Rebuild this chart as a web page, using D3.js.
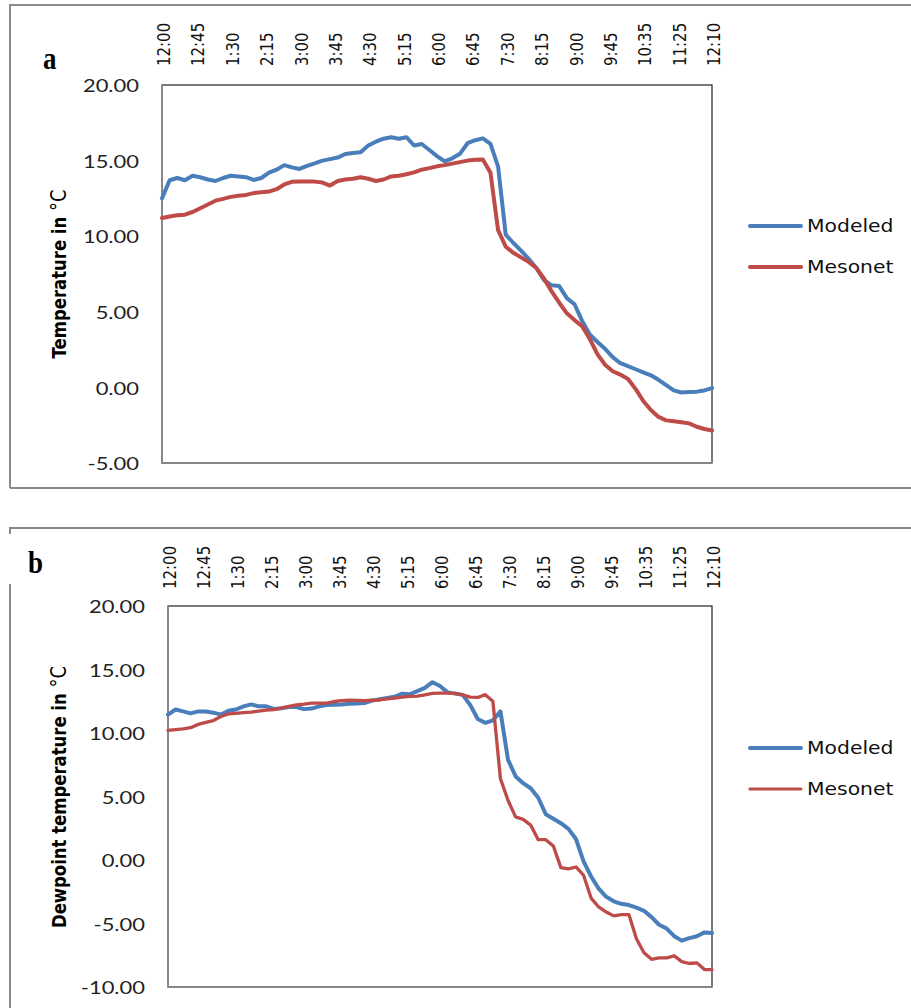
<!DOCTYPE html>
<html>
<head>
<meta charset="utf-8">
<script src="https://cdn.jsdelivr.net/npm/d3@7"></script>
<style>
  html, body { margin: 0; padding: 0; background: #fff; }
  svg { display: block; }
</style>
</head>
<body>
<svg id="chart" width="911" height="1008"></svg>
<script>
// ---------- DATA ----------
// Time-axis tick labels (every 9th category of a 145-category axis)
const tickLabels = ["12:00","12:45","1:30","2:15","3:00","3:45","4:30","5:15","6:00",
                    "6:45","7:30","8:15","9:00","9:45","10:35","11:25","12:10"];
const categoryCount = 145;   // categories on the time axis
const labelEvery = 9;        // a label every 9 categories
const sampleStep = 2;        // values below are read every 2nd category

const seriesNames = ["Modeled", "Mesonet"];

// Panel a: air temperature (°C)
const tempModeled = [
  12.5, 13.7, 13.85, 13.7, 14.0, 13.9, 13.75, 13.65, 13.85, 14.0,
  13.95, 13.9, 13.72, 13.85, 14.2, 14.4, 14.7, 14.55, 14.45, 14.65,
  14.82, 15.0, 15.1, 15.2, 15.44, 15.5, 15.55, 16.0, 16.25, 16.45,
  16.55, 16.45, 16.55, 16.0, 16.1, 15.7, 15.3, 14.95, 15.15, 15.45,
  16.15, 16.35, 16.47, 16.1, 14.6, 10.1, 9.55, 9.05, 8.5, 7.9,
  7.1, 6.75, 6.7, 5.9, 5.5, 4.4, 3.5, 3.0, 2.55, 2.0,
  1.6, 1.4, 1.2, 1.0, 0.8, 0.5, 0.15, -0.2, -0.34, -0.3,
  -0.28, -0.2, -0.05
];
const tempMesonet = [
  11.2, 11.3, 11.38, 11.42, 11.6, 11.85, 12.1, 12.35, 12.47, 12.6,
  12.68, 12.73, 12.85, 12.9, 12.95, 13.11, 13.42, 13.6, 13.61, 13.61,
  13.61, 13.55, 13.35, 13.65, 13.75, 13.8, 13.9, 13.8, 13.65, 13.75,
  13.95, 14.0, 14.1, 14.22, 14.4, 14.5, 14.62, 14.7, 14.8, 14.9,
  15.0, 15.05, 15.08, 14.2, 10.4, 9.3, 8.9, 8.6, 8.3, 7.9,
  7.2, 6.35, 5.6, 4.9, 4.45, 4.05, 3.2, 2.2, 1.5, 1.07,
  0.85, 0.55, -0.1, -0.9, -1.5, -1.95, -2.18, -2.24, -2.3, -2.38,
  -2.6, -2.75, -2.85
];

// Panel b: dewpoint temperature (°C)
const dewModeled = [
  11.45, 11.85, 11.7, 11.55, 11.7, 11.7, 11.6, 11.45, 11.75, 11.85,
  12.1, 12.25, 12.1, 12.1, 11.9, 11.95, 12.05, 12.05, 11.88, 11.92,
  12.1, 12.2, 12.22, 12.25, 12.3, 12.33, 12.36, 12.55, 12.65, 12.75,
  12.85, 13.1, 13.05, 13.3, 13.55, 14.0, 13.7, 13.2, 13.1, 13.0,
  12.2, 11.1, 10.8, 11.0, 11.7, 7.9, 6.6, 6.05, 5.65, 4.9,
  3.6, 3.25, 2.9, 2.45, 1.65, -0.1, -1.3, -2.25, -2.9, -3.25,
  -3.45, -3.55, -3.75, -4.0, -4.5, -5.1, -5.4, -6.0, -6.35, -6.15,
  -6.0, -5.7, -5.75
];
const dewMesonet = [
  10.2, 10.27, 10.32, 10.42, 10.68, 10.83, 10.98, 11.3, 11.5, 11.55,
  11.6, 11.65, 11.72, 11.8, 11.85, 11.95, 12.1, 12.22, 12.27, 12.35,
  12.35, 12.35, 12.48, 12.55, 12.58, 12.57, 12.54, 12.58, 12.6, 12.68,
  12.75, 12.83, 12.88, 12.9, 13.0, 13.12, 13.14, 13.14, 13.12, 13.0,
  12.82, 12.8, 13.02, 12.5, 6.4, 4.7, 3.4, 3.2, 2.75, 1.6,
  1.6, 1.1, -0.6, -0.7, -0.55, -1.2, -3.0, -3.7, -4.1, -4.4,
  -4.3, -4.3, -6.2, -7.3, -7.82, -7.7, -7.7, -7.55, -8.0, -8.15,
  -8.1, -8.63, -8.63
];

const yTicksA = [20, 15, 10, 5, 0, -5];
const yTicksB = [20, 15, 10, 5, 0, -5, -10];

// ---------- STYLE / LAYOUT ----------
const COLORS = ["#4A7EBB", "#BE4B48"];
const SX = 1.22; // horizontal text stretch seen in the reference

const panels = [
  {
    letter: "a", letterX: 43, letterY: 69,
    frame: {x: 10, y: 5, bottom: 488},
    plot: {left: 162, top: 85, right: 712, bottom: 463},
    yDomain: [-5, 20], yTicks: yTicksA, tickRight: 139,
    xLabelBottom: 66,
    title: "Temperature in ", titleX: 58, titleY: 274,
    series: [tempModeled, tempMesonet], widths: [4, 4],
    legendY: [226, 267], legendW: [4, 4], cover: false
  },
  {
    letter: "b", letterX: 28, letterY: 573,
    frame: {x: 10, y: 528, bottom: 1030},
    plot: {left: 168, top: 606, right: 712, bottom: 987},
    yDomain: [-10, 20], yTicks: yTicksB, tickRight: 145,
    xLabelBottom: 589,
    title: "Dewpoint temperature in ", titleX: 58, titleY: 797,
    series: [dewModeled, dewMesonet], widths: [4, 3.3],
    legendY: [748, 789], legendW: [4, 3.2], cover: true
  }
];

const svg = d3.select("#chart");
const fmt = v => d3.format(".2f")(v).replace("\u2212", "-");

panels.forEach(p => {
  const g = svg.append("g");

  // outer chart frame
  g.append("path")
    .attr("d", `M${p.frame.x},${p.frame.bottom} V${p.frame.y} H930`)
    .attr("fill", "none").attr("stroke", "#8a8a8a").attr("stroke-width", 2);
  g.append("path")
    .attr("d", `M${p.frame.x},${p.frame.bottom} H930`)
    .attr("fill", "none").attr("stroke", "#8a8a8a").attr("stroke-width", 2);

  if (p.cover) {
    g.append("rect").attr("x", 0).attr("y", 534).attr("width", 120).attr("height", 50)
      .attr("fill", "#fff");
  }

  const x = d3.scaleLinear().domain([0, categoryCount - 1]).range([p.plot.left, p.plot.right]);
  const y = d3.scaleLinear().domain(p.yDomain).range([p.plot.bottom, p.plot.top]);

  // plot area border
  g.append("rect")
    .attr("x", p.plot.left).attr("y", p.plot.top)
    .attr("width", p.plot.right - p.plot.left).attr("height", p.plot.bottom - p.plot.top)
    .attr("fill", "#fff").attr("stroke", "#222").attr("stroke-width", 1.2);
  g.append("path")
    .attr("d", `M${p.plot.left},${p.plot.top} V${p.plot.bottom} H${p.plot.right}`)
    .attr("fill", "none").attr("stroke", "#8c8c8c").attr("stroke-width", 1.6);

  // y tick labels
  g.selectAll(".ytick").data(p.yTicks).enter().append("text")
    .attr("transform", d => `translate(${p.tickRight},${y(d)}) scale(${SX},1)`)
    .attr("text-anchor", "end").attr("dominant-baseline", "central")
    .attr("font-family", "Lato, 'Open Sans', sans-serif").attr("font-size", 18)
    .attr("fill", "#222").text(fmt);

  // x tick labels (rotated, at the top)
  g.selectAll(".xtick").data(tickLabels).enter().append("text")
    .attr("transform", (d, i) => `translate(${x(i * labelEvery) + 1.5},${p.xLabelBottom}) scale(${SX},1) rotate(-90)`)
    .attr("text-anchor", "start").attr("dominant-baseline", "central")
    .attr("font-family", "'DejaVu Sans', Verdana, sans-serif").attr("font-size", 15)
    .attr("fill", "#111").text(d => d);

  // y axis title
  const t = g.append("text")
    .attr("transform", `translate(${p.titleX},${p.titleY}) scale(${SX},1) rotate(-90)`)
    .attr("text-anchor", "middle").attr("dominant-baseline", "central")
    .attr("font-family", "'DejaVu Sans', sans-serif").attr("font-size", 16.5)
    .attr("font-weight", "bold").attr("fill", "#000");
  t.append("tspan").text(p.title);
  t.append("tspan").attr("font-weight", "normal").attr("font-size", 18).text("\u00B0C");

  // panel letter
  g.append("text")
    .attr("transform", `translate(${p.letterX},${p.letterY}) scale(0.87,1)`)
    .attr("font-family", "'Liberation Serif', 'Times New Roman', serif")
    .attr("font-size", 31).attr("font-weight", "bold").attr("fill", "#000")
    .text(p.letter);

  // series lines
  const line = d3.line()
    .x((d, i) => x(i * sampleStep))
    .y(d => y(d));
  p.series.forEach((s, k) => {
    g.append("path").datum(s)
      .attr("d", line)
      .attr("fill", "none").attr("stroke", COLORS[k])
      .attr("stroke-width", p.widths[k])
      .attr("stroke-linejoin", "round").attr("stroke-linecap", "round");
  });

  // legend
  seriesNames.forEach((name, k) => {
    const ly = p.legendY[k];
    g.append("line").attr("x1", 750).attr("x2", 801).attr("y1", ly).attr("y2", ly)
      .attr("stroke", COLORS[k]).attr("stroke-width", p.legendW[k]).attr("stroke-linecap", "round");
    g.append("text")
      .attr("transform", `translate(807,${ly}) scale(1.1,1)`)
      .attr("dominant-baseline", "central")
      .attr("font-family", "'DejaVu Sans', Verdana, sans-serif").attr("font-size", 18.5)
      .attr("fill", "#111").text(name);
  });
});
</script>
</body>
</html>
